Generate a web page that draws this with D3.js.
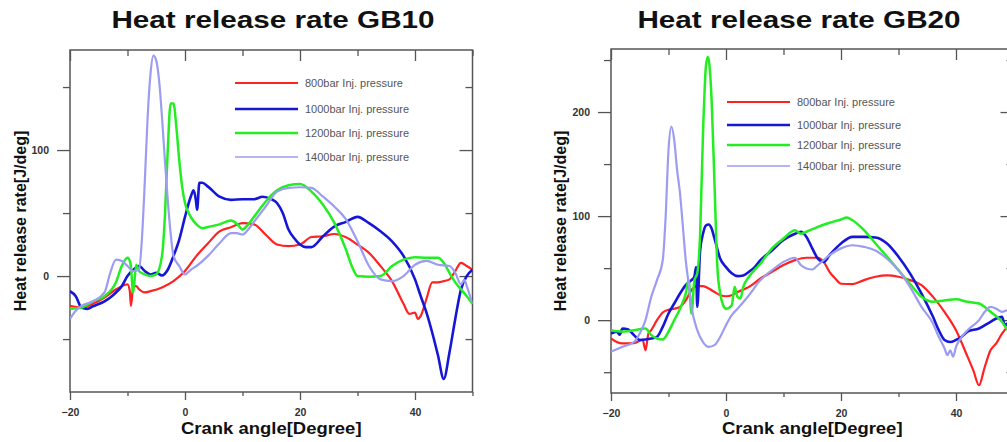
<!DOCTYPE html>
<html><head><meta charset="utf-8">
<script src="https://cdn.jsdelivr.net/npm/d3@7"></script>
<style>
html,body{margin:0;padding:0;background:#fff;}
svg{display:block;font-family:"Liberation Sans",Arial,sans-serif;}
</style></head>
<body>
<svg id="chart" width="1007" height="442"></svg>
<script>
// ---------- DATA ----------
const seriesNames = ["800bar Inj. pressure","1000bar Inj. pressure","1200bar Inj. pressure","1400bar Inj. pressure"];
const seriesColors = ["#ff2222","#1616d6","#22ee22","#9c9cf2"];
const xMajorTicks = [-20,0,20,40];
const xMinorTicks = [-10,10,30,50];
const gb10YMajor = [0,100];
const gb10YMinor = [-50,50,150];
const gb20YMajor = [0,100,200];
const gb20YMinor = [-50,50,150,250];

// GB10 : [crank angle, heat release rate]
const gb10_800 = [[-20,-23.7],[-18,-25],[-16,-22],[-14,-17],[-12,-10.5],[-11,-8],[-10,-6.6],[-9.6,-12],[-9.4,-23.7],[-9,-8],[-8.5,-8],[-8,-10.5],[-7,-13],[-6,-12],[-4,-9],[-2,-4],[0,4],[2,16],[4,26],[6,35.5],[8,38.7],[10,42],[12,41],[14,33],[16,25],[18,23.7],[20,25],[22,31],[24,31.6],[26,33.4],[28,30.8],[30,25],[32,18.4],[34,7.9],[36,-4],[38,-22],[39,-30],[40,-29],[40.5,-34],[41,-31.6],[42,-18],[43,-5],[44,-5],[45,-4],[46,-2.6],[47,4],[48,10.5],[49,8],[50,5]];
const gb10_1000 = [[-20,-12],[-19,-16],[-18,-25],[-17,-26],[-16,-24],[-14,-20],[-13,-17],[-12,-13],[-11,-8],[-10,0],[-9,5],[-8,8],[-7,4],[-6,1.3],[-5,2.6],[-4,0.5],[-3,5],[-2,16],[-1,29],[0,47],[1,63],[1.5,68],[1.9,60],[2.1,52.6],[2.5,74],[3,74],[4,71],[6,63],[8,60.5],[10,61],[12,61],[13.5,63],[15,61],[16,58],[17,50],[18,37],[19,30],[20,25],[21,23],[22,23],[24,31.6],[26,39.5],[28,43],[30,47],[32,42],[34,35.5],[36,27.6],[38,16],[40,-2.6],[41,-16],[42,-29],[43,-45],[44,-63],[45,-81.6],[46,-60.5],[47,-34],[48,-10.5],[49,0],[50,5]];
const gb10_1200 = [[-20,-26],[-18,-25],[-16,-20],[-14,-16],[-12,-5],[-11,8],[-10,14.5],[-9.5,10.5],[-9,-13],[-8.5,9],[-8,4],[-7,1.3],[-6,0],[-5,1.3],[-4,16],[-3.5,47],[-3,100],[-2.5,137],[-2,137],[-1.5,118],[-1,92],[-0.5,71],[0,58],[1,47],[2,41],[3,38],[4,39],[6,41],[8,44],[9,41.6],[10,37],[11,41],[12,47],[14,59],[16,68],[18,72],[20,73],[22,67],[24,56.6],[26,42],[28,21],[29,8],[30,0],[32,-0.5],[34,0],[36,8],[38,13],[40,15],[42,14.5],[44,14.5],[45,10.5],[46,2.6],[47,-5],[48,-10.5],[49,-16],[50,-22]];
const gb10_1400 = [[-20,-34],[-19,-27.6],[-18,-23.7],[-16,-20],[-14,-13],[-13,2.6],[-12,13],[-11,12],[-10,8],[-9,4],[-8,5],[-7.5,29],[-7,74],[-6.5,126],[-6,160.5],[-5.5,175],[-5,171],[-4.5,155],[-4,126],[-3.5,92],[-3,60.5],[-2.5,34],[-2,16],[-1,8],[0,1.3],[1,5],[2,8],[4,16],[6,26],[8,34],[9,34],[10,33],[11,37],[12,43],[14,55],[16,67],[18,70],[20,70.5],[22,70],[24,63],[26,55],[28,45],[30,27.6],[32,8],[34,-2.6],[36,-4],[38,0],[40,9],[42,12],[44,9],[46,8],[47,2.6],[48,-6.6],[48.6,-3],[49,-8],[50,-22]];

// GB20 : [crank angle, heat release rate]
const gb20_800 = [[-20,-17.6],[-19,-21],[-18,-22.4],[-16,-22],[-14.5,-19],[-14,-29],[-13.5,-13],[-13,-9.6],[-12,0],[-11,7.4],[-10,10],[-9,11],[-8,12.8],[-7,19],[-6,29],[-5,32.7],[-4,32.7],[-3,30.4],[-2,27],[-1,24],[0,23],[1,24],[2,27],[4,32],[6,40],[8,46.5],[10,53],[12,57.7],[14,60],[16,60],[17,56],[18,46.5],[19,40],[20,35],[22,34.6],[24,38.5],[26,41.7],[28,43],[30,41.7],[32,38.5],[34,33.7],[36,22.4],[38,8],[40,-9.6],[42,-35],[43,-48],[44,-62.5],[45,-45],[46,-29],[47,-22.4],[48,-13],[49,-6.4],[50,-3]];
const gb20_1000 = [[-20,-12.8],[-19,-11],[-18.5,-14],[-18,-8],[-17,-9],[-16,-14.4],[-15,-19],[-14,-18.6],[-13,-17.6],[-12,-16],[-11,-6.4],[-10,6.4],[-9,16],[-8,25.6],[-7,33.7],[-6,38.5],[-5.5,41.7],[-5.2,51],[-5,12.8],[-4.5,67],[-4,83],[-3.5,91],[-3,92],[-2.5,88],[-2,78.5],[-1,59],[0,51],[1,45],[2,42.3],[3,43],[4,46.5],[5,51],[6,57.7],[8,67],[10,77],[12,83],[13,85],[14,80],[15,69],[16,59],[17,56],[18,62.5],[20,73.7],[22,80],[24,80],[26,79.5],[28,73.7],[30,61],[32,45],[34,25.6],[36,3.2],[37,-9.6],[38,-19],[39,-21],[40,-19],[41,-16],[42,-11],[44,-8],[46,-1.6],[47,1.6],[48,3.2],[48.5,-5],[49,-3],[50,-3]];
const gb20_1200 = [[-20,-9.6],[-18,-11],[-16,-9.6],[-14,-8],[-13,-14.4],[-12,-17.6],[-11,-18.6],[-10,-11],[-9,0],[-8,11],[-7,25.6],[-6.5,38.5],[-6,6.4],[-5.5,38],[-5,45],[-4.5,83],[-4,179.5],[-3.5,243.6],[-3.2,253],[-3,250],[-2.5,211.5],[-2,131],[-1.5,51],[-1,25.6],[-0.5,14.4],[0,11],[1,14.4],[1.5,32],[2,22.4],[2.5,20.8],[3,32],[4,41.7],[6,54.5],[8,69],[10,78.5],[12,86.5],[13,83],[14,85],[16,89.7],[18,93.6],[20,96.8],[21,98.7],[22,96],[24,86.5],[26,73.7],[28,61],[30,48],[32,35],[34,22.4],[36,17.6],[38,19],[40,20],[42,17.6],[44,16],[46,8],[48,-1.6],[49,-9.6],[50,-12]];
const gb20_1400 = [[-20,-30.4],[-18,-25.6],[-16,-21],[-15,-12.8],[-14,0],[-13,22.4],[-12,38.5],[-11,57.7],[-10.5,99],[-10,163.5],[-9.5,186],[-9,173],[-8.5,144],[-8,122],[-7.5,90],[-7,57.7],[-6.5,35],[-6,12.8],[-5,-9.6],[-4,-21],[-3,-25.6],[-2,-24],[-1,-16],[0,-4.8],[1,4.8],[2,11],[4,24],[6,38.5],[8,48],[10,56],[12,60],[13,53],[14,49.7],[15,48.7],[16,53],[18,62.5],[20,69],[22,72],[24,70.5],[26,67],[28,59],[30,48],[32,32],[34,12.8],[36,-3.2],[37,-16],[38,-27],[38.5,-33.6],[39,-29],[39.5,-35],[40,-25.6],[41,-16],[42,-9.6],[44,0],[45,8],[46,12.8],[47,11],[48,8],[49,9.6],[50,8]];

// ---------- DRAW ----------
const svg = d3.select("#chart");
const frameColor = "#555";

function stretchedText(parent, cx, cy, sx, size, weight, fill, str){
  parent.append("g").attr("transform",`translate(${cx},${cy}) scale(${sx},1)`)
    .append("text").attr("x",0).attr("y",0).attr("text-anchor","middle")
    .attr("font-size",size).attr("font-weight",weight).attr("fill",fill).text(str);
}

function drawPanel(cfg){
  const {title, titleX, data, x, y, yMajor, yMinor, legendX1, legendX2, legendTextX, legendY, yTitleX, clipId} = cfg;
  const g = svg.append("g");
  const [x0,x1] = x.range(); const [y0,y1] = y.range(); // y0 bottom, y1 top

  svg.append("defs").append("clipPath").attr("id",clipId)
    .append("rect").attr("x",x0).attr("y",y1).attr("width",x1-x0).attr("height",y0-y1);

  // title
  stretchedText(g, titleX, 28, 1.29, 23, "bold", "#111", title);

  // frame
  g.append("rect").attr("x",x0).attr("y",y1).attr("width",x1-x0).attr("height",y0-y1)
    .attr("fill","none").attr("stroke",frameColor).attr("stroke-width",1.5);

  const styleAxis = sel => { sel.select(".domain").remove(); sel.selectAll("line").attr("stroke",frameColor).attr("stroke-width",1.3); };
  const styleLabels = s => s.selectAll("text").attr("font-size",10.5).attr("font-weight","bold").attr("fill","#333").attr("font-family","Liberation Sans, Arial, sans-serif");

  // bottom axis (outward ticks)
  g.append("g").attr("transform",`translate(0,${y0})`)
    .call(d3.axisBottom(x).tickValues(xMajorTicks).tickSize(8).tickPadding(9).tickFormat(d3.format("d")))
    .call(styleAxis).call(styleLabels);
  g.append("g").attr("transform",`translate(0,${y0})`)
    .call(d3.axisBottom(x).tickValues(xMinorTicks).tickSize(4).tickFormat(""))
    .call(styleAxis);
  // top axis (inward ticks)
  g.append("g").attr("transform",`translate(0,${y1})`)
    .call(d3.axisBottom(x).tickValues(xMajorTicks).tickSize(11).tickFormat(""))
    .call(styleAxis);
  g.append("g").attr("transform",`translate(0,${y1})`)
    .call(d3.axisBottom(x).tickValues(xMinorTicks).tickSize(6).tickFormat(""))
    .call(styleAxis);
  // left axis (outward ticks)
  g.append("g").attr("transform",`translate(${x0},0)`)
    .call(d3.axisLeft(y).tickValues(yMajor).tickSize(13).tickPadding(8).tickFormat(d3.format("d")))
    .call(styleAxis).call(styleLabels);
  g.append("g").attr("transform",`translate(${x0},0)`)
    .call(d3.axisLeft(y).tickValues(yMinor).tickSize(7).tickFormat(""))
    .call(styleAxis);
  // right axis (inward ticks)
  g.append("g").attr("transform",`translate(${x1},0)`)
    .call(d3.axisRight(y).tickValues(yMajor).tickSize(-13).tickFormat(""))
    .call(styleAxis);
  g.append("g").attr("transform",`translate(${x1},0)`)
    .call(d3.axisRight(y).tickValues(yMinor).tickSize(-7).tickFormat(""))
    .call(styleAxis);

  // axis titles
  stretchedText(g, (x0+x1)/2, 434, 1.12, 16.5, "bold", "#111", "Crank angle[Degree]");
  g.append("text").attr("transform",`translate(${yTitleX},${(y0+y1)/2}) rotate(-90)`).attr("text-anchor","middle")
    .attr("font-size",16).attr("font-weight","bold").attr("fill","#111").text("Heat release rate[J/deg]");

  // series
  const line = d3.line().x(d=>x(d[0])).y(d=>y(d[1])).curve(d3.curveMonotoneX);
  const widths = [2.2,2.6,2.5,2.2];
  const lg = g.append("g").attr("clip-path",`url(#${clipId})`);
  data.forEach((s,i)=>{
    lg.append("path").datum(s).attr("d",line).attr("fill","none")
      .attr("stroke",seriesColors[i]).attr("stroke-width",widths[i]).attr("stroke-linejoin","round");
  });

  // legend
  seriesNames.forEach((n,i)=>{
    g.append("line").attr("x1",legendX1).attr("x2",legendX2).attr("y1",legendY[i]).attr("y2",legendY[i])
      .attr("stroke",seriesColors[i]).attr("stroke-width",[2.2,2.6,2.4,1.6][i]);
    g.append("g").attr("transform",`translate(${legendTextX},${legendY[i]}) scale(1.05,1)`)
      .append("text").attr("dy","0.35em")
      .attr("font-size",10.5).attr("fill","#555").text(n);
  });
}

drawPanel({
  title:"Heat release rate GB10", titleX:273, clipId:"clipA",
  data:[gb10_800,gb10_1000,gb10_1200,gb10_1400],
  x:d3.scaleLinear().domain([-20,50]).range([70,472.5]),
  y:d3.scaleLinear().domain([-92,179.4]).range([392,50]),
  yMajor:gb10YMajor, yMinor:gb10YMinor,
  legendX1:235, legendX2:298, legendTextX:305, legendY:[83,109,133,157], yTitleX:26
});
drawPanel({
  title:"Heat release rate GB20", titleX:799, clipId:"clipB",
  data:[gb20_800,gb20_1000,gb20_1200,gb20_1400],
  x:d3.scaleLinear().domain([-20,50]).range([611,1013.5]),
  y:d3.scaleLinear().domain([-70,260.6]).range([393,49]),
  yMajor:gb20YMajor, yMinor:gb20YMinor,
  legendX1:727, legendX2:790, legendTextX:797, legendY:[102,125,145,166], yTitleX:566
});
</script>
</body></html>
